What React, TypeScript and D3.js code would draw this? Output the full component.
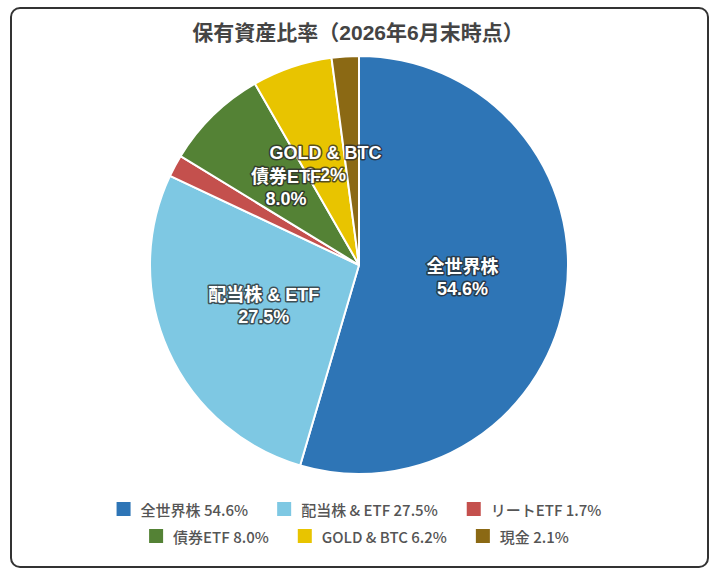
import React, { useEffect, useRef } from "react";
import * as d3 from "d3";

const categories = ["全世界株", "配当株 & ETF", "リートETF", "債券ETF", "GOLD & BTC", "現金"];
const values = [54.6, 27.5, 1.7, 8.0, 6.2, 2.1];
const colors = ["#2E75B6", "#7EC8E3", "#C4504D", "#548235", "#E8C400", "#8B6914"];
const titleText = "保有資産比率（2026年6月末時点）";
const legendRows = [[0, 1, 2], [3, 4, 5]];

const W = 717;
const H = 576;

export default function App() {
  const ref = useRef<SVGSVGElement | null>(null);

  useEffect(() => {
    const svg = d3.select(ref.current);
    svg.selectAll("*").remove();

    svg.append("rect").attr("x", 0).attr("y", 0).attr("width", W).attr("height", H).attr("fill", "#ffffff");
    svg.append("rect")
      .attr("x", 11).attr("y", 8).attr("width", 697).attr("height", 559)
      .attr("rx", 9).attr("fill", "#ffffff").attr("stroke", "#333").attr("stroke-width", 2);

    svg.append("text")
      .attr("x", 358).attr("y", 32.5)
      .attr("text-anchor", "middle").attr("dominant-baseline", "central")
      .attr("font-family", "'Liberation Sans', 'Noto Sans CJK JP', sans-serif")
      .attr("font-weight", "bold").attr("font-size", 21).attr("fill", "#444")
      .text(titleText);

    const cx = 359, cy = 265, r = 209;
    const pie = d3.pie<number>().sort(null).value((d) => d);
    const arcs = pie(values);
    const arc = d3.arc<d3.PieArcDatum<number>>().innerRadius(0).outerRadius(r);
    const g = svg.append("g").attr("transform", `translate(${cx},${cy})`);
    g.selectAll("path.slice").data(arcs).enter().append("path")
      .attr("d", arc as any)
      .attr("fill", (_, i) => colors[i])
      .attr("stroke", "#fff").attr("stroke-width", 2).attr("stroke-linejoin", "round");

    const shown = arcs.map((a, i) => ({ a, i })).filter((d) => values[d.i] >= 3).reverse();
    shown.forEach(({ a, i }) => {
      const [x, y] = arc.centroid(a);
      const lines = [categories[i], `${values[i].toFixed(1)}%`];
      lines.forEach((t, k) => {
        g.append("text")
          .attr("x", x).attr("y", y - 2 + (k === 0 ? -10.8 : 10.8))
          .attr("text-anchor", "middle").attr("dominant-baseline", "central")
          .attr("font-family", "'Liberation Sans', 'Noto Sans CJK JP', sans-serif")
          .attr("font-weight", "bold").attr("font-size", 18)
          .attr("fill", "#fff")
          .attr("stroke", "rgba(40,40,40,0.75)").attr("stroke-width", 3)
          .attr("stroke-linejoin", "round")
          .attr("paint-order", "stroke")
          .text(t);
      });
    });

    const rowY = [509, 536];
    const box = 14, gapBox = 10, gapItem = 29;
    legendRows.forEach((row, ri) => {
      const lg = svg.append("g");
      let xPos = 0;
      row.forEach((i) => {
        lg.append("rect")
          .attr("x", xPos).attr("y", rowY[ri] - box / 2)
          .attr("width", box).attr("height", box)
          .attr("fill", colors[i]);
        const t = lg.append("text")
          .attr("x", xPos + box + gapBox).attr("y", rowY[ri])
          .attr("dominant-baseline", "central")
          .attr("font-family", "'Noto Sans CJK JP', sans-serif")
          .attr("font-weight", 500).attr("font-size", 15).attr("fill", "#555")
          .text(`${categories[i]} ${values[i].toFixed(1)}%`);
        const tw = (t.node() as SVGTextElement).getComputedTextLength();
        xPos += box + gapBox + tw + gapItem;
      });
      const total = xPos - gapItem;
      lg.attr("transform", `translate(${359 - total / 2},0)`);
    });
  }, []);

  return (
    <svg ref={ref} width={W} height={H} style={{ position: "absolute", left: 0, top: 0 }} />
  );
}
